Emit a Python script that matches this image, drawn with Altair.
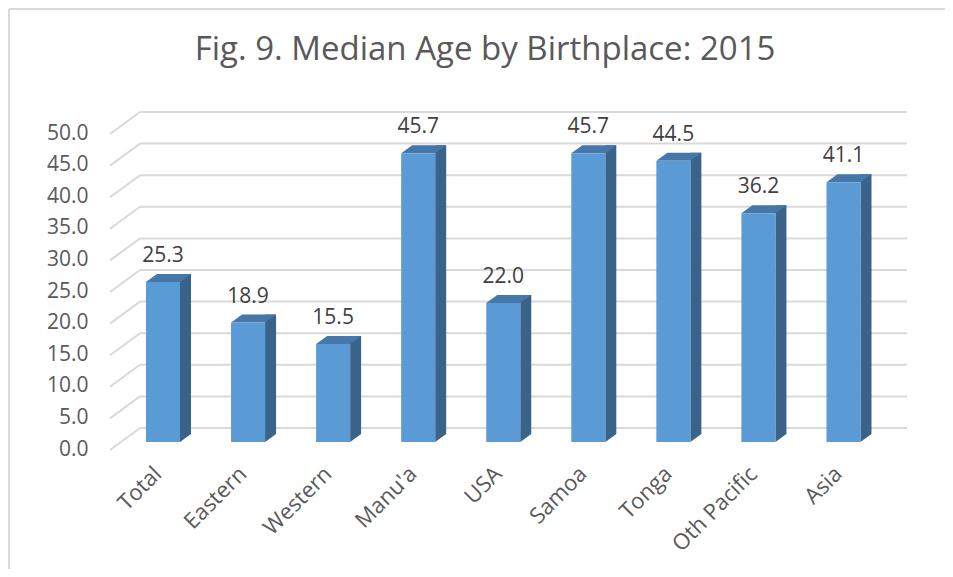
import altair as alt
import pandas as pd

# ---- data ----
categories = ["Total", "Eastern", "Western", "Manu'a", "USA", "Samoa", "Tonga", "Oth Pacific", "Asia"]
values = [25.3, 18.9, 15.5, 45.7, 22.0, 45.7, 44.5, 36.2, 41.1]
y_ticks = [0, 5, 10, 15, 20, 25, 30, 35, 40, 45, 50]
title_text = "Fig. 9. Median Age by Birthplace: 2015"

FONT = "Open Sans"
FRONT = "#5B9BD5"
TOP = "#4677A8"
SIDE = "#3A6389"
GRID = "#D9D9D9"

bars = pd.DataFrame({"cat": categories, "value": values, "zero": [0] * len(values)})
ticks = pd.DataFrame({"v": y_ticks})

xscale = alt.Scale(domain=categories, paddingInner=0.6, paddingOuter=0.5025, align=0.421)
yscale = alt.Scale(domain=[0, 50], nice=False, zero=True)

x_axis = alt.Axis(labelAngle=-45, labelAlign="right", labelBaseline="middle",
                  labelPadding=28, labelOffset=-5, ticks=False, domain=False,
                  grid=False, title=None, labelFontSize=22, labelFont=FONT,
                  labelColor="#595959", labelOverlap=False)
y_axis = alt.Axis(values=y_ticks, format=".1f", labelOffset=7, labelPadding=22,
                  ticks=False, domain=False, grid=False, title=None,
                  labelFontSize=21, labelFont=FONT, labelColor="#595959",
                  labelOverlap=False)

X = alt.X("cat:N", scale=xscale, sort=categories, axis=x_axis)
Y_VAL = alt.Y("value:Q", scale=yscale, axis=y_axis)

# back-wall gridlines
grid_back = alt.Chart(ticks).mark_rule(color=GRID, strokeWidth=2, yOffset=-14).encode(
    x=alt.value(30), x2=alt.value(797),
    y=alt.Y("v:Q", scale=yscale, axis=y_axis),
)
# side-wall diagonals
grid_side = alt.Chart(ticks).mark_rule(color=GRID, strokeWidth=2, yOffset=8, y2Offset=-14).encode(
    x=alt.value(0), x2=alt.value(30),
    y=alt.Y("v:Q", scale=yscale, axis=y_axis), y2="v:Q",
)

side = alt.Chart(bars).mark_bar(color=SIDE, width=11, xOffset=22.5, yOffset=-8, y2Offset=-8).encode(
    x=X, y=Y_VAL,
)
side_bottom = alt.Chart(bars).mark_point(
    shape="M-1,0.727L-1,-0.727L1,-0.727Z", size=121, filled=True, opacity=1,
    color=SIDE, strokeWidth=0, xOffset=22.5, yOffset=-4,
).encode(x=X, y=alt.Y("zero:Q", scale=yscale, axis=y_axis))
top = alt.Chart(bars).mark_point(
    shape="M-1,0.178L0.511,0.178L1,-0.178L-0.511,-0.178Z", size=2025, filled=True, opacity=1,
    color=TOP, strokeWidth=0, xOffset=5.5, yOffset=-4,
).encode(x=X, y=Y_VAL)
front = alt.Chart(bars).mark_bar(color=FRONT).encode(
    x=X, y=Y_VAL,
)
labels = alt.Chart(bars).mark_text(dy=-26, fontSize=21, font=FONT, color="#404040").encode(
    x=X, y=Y_VAL, text=alt.Text("value:Q", format=".1f"),
)

# frame lines (top and left edges of the chart box)
frame_top = alt.Chart(ticks).mark_rule(color=GRID, strokeWidth=2).encode(
    x=alt.value(-101), x2=alt.value(835), y=alt.value(-117))
frame_left = alt.Chart(ticks).mark_rule(color=GRID, strokeWidth=2).encode(
    x=alt.value(-101), y=alt.value(-117), y2=alt.value(445))

chart = alt.layer(
    frame_top, frame_left, grid_back, grid_side, side, side_bottom, top, front, labels
).properties(
    width=800, height=316,
    background="white",
    title=alt.TitleParams(title_text, fontSize=33, font=FONT, color="#595959",
                          fontWeight="normal", anchor="middle", dx=-25, offset=-59),
    autosize=alt.AutoSizeParams(type="none"),
    padding={"left": 102, "top": 118, "right": 35, "bottom": 127},
).configure_view(stroke=None).configure_axis(grid=False)

chart.save("out.html", embed_options={"renderer": "svg", "actions": False})
